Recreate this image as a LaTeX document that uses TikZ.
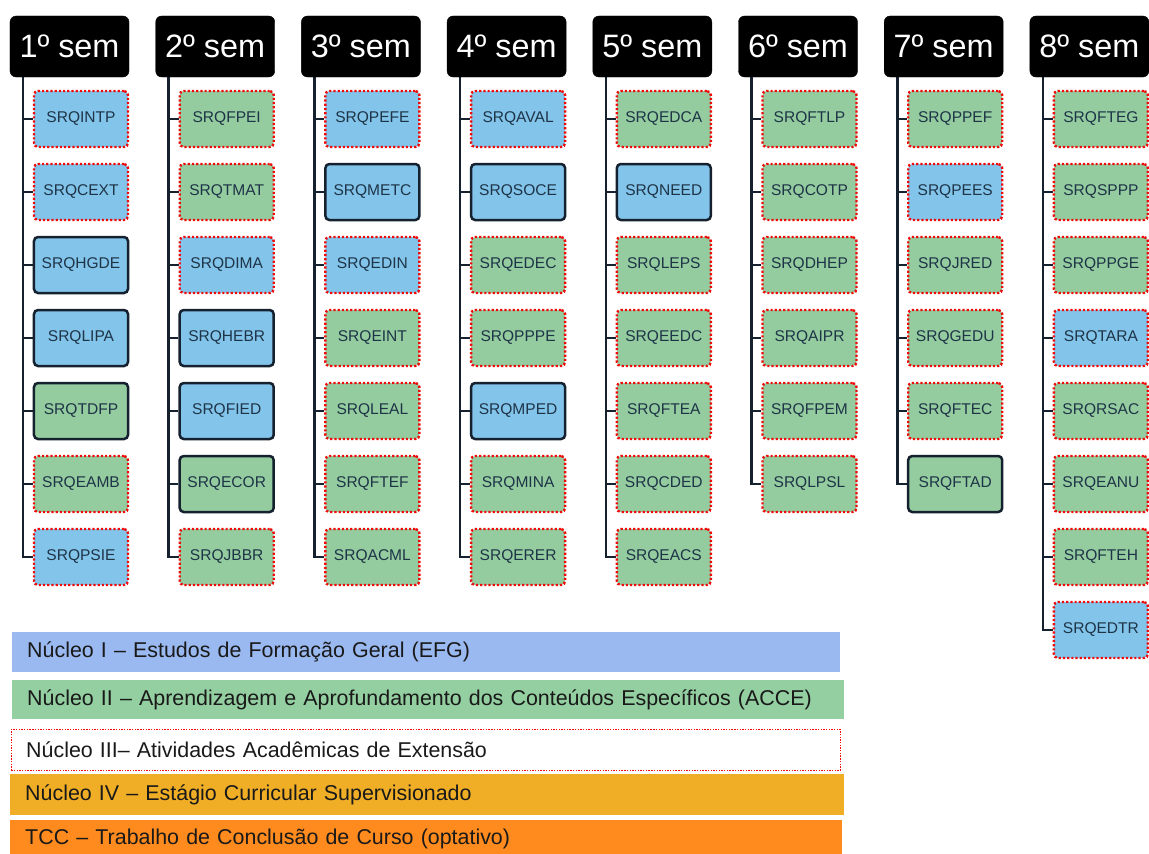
\documentclass[tikz,border=0pt]{standalone}
\usepackage{fontspec}
\setmainfont{Liberation Sans}
\usetikzlibrary{backgrounds}
\definecolor{ink}{HTML}{15212F}
\definecolor{cblue}{HTML}{83C4EA}
\definecolor{cgreen}{HTML}{94CC9F}
\definecolor{lblue}{HTML}{9AB9F0}
\definecolor{lgreen}{HTML}{93CFA0}
\definecolor{lgold}{HTML}{F0AE27}
\definecolor{lorange}{HTML}{FF8B1F}
\definecolor{txt}{HTML}{1E3447}
\definecolor{dotred}{HTML}{F00A0A}
\tikzset{
  hdrbox/.style={fill=black, draw=black, rounded corners=6bp, minimum width=119bp,
    minimum height=61bp, inner sep=0pt, text=white, font=\fontsize{32.5}{36}\selectfont},
  course/.style={rounded corners=4bp, minimum width=94bp, minimum height=56bp,
    inner sep=0pt, font=\fontsize{15.6}{18}\selectfont, text=txt},
  cb/.style={fill=cblue}, cg/.style={fill=cgreen},
  ext/.style={draw=dotred, line width=2.4bp, dash pattern=on 2.2bp off 2bp},
  core/.style={draw=ink, line width=2.5bp},
  tree/.style={draw=ink, line width=2.6bp},
  legbar/.style={anchor=north west, inner xsep=15bp, inner ysep=0pt, align=left,
    font=\fontsize{21.5}{24}\selectfont, text=black!90},
}
\begin{document}
\begin{tikzpicture}[x=1bp,y=-1bp]
\useasboundingbox (0,0) rectangle (1149,854);
\clip (0,0) rectangle (1149,854);
\foreach \c/\list in {
 1/{SRQINTP/cb/ext, SRQCEXT/cb/ext, SRQHGDE/cb/core, SRQLIPA/cb/core, SRQTDFP/cg/core, SRQEAMB/cg/ext, SRQPSIE/cb/ext},
 2/{SRQFPEI/cg/ext, SRQTMAT/cg/ext, SRQDIMA/cb/ext, SRQHEBR/cb/core, SRQFIED/cb/core, SRQECOR/cg/core, SRQJBBR/cg/ext},
 3/{SRQPEFE/cb/ext, SRQMETC/cb/core, SRQEDIN/cb/ext, SRQEINT/cg/ext, SRQLEAL/cg/ext, SRQFTEF/cg/ext, SRQACML/cg/ext},
 4/{SRQAVAL/cb/ext, SRQSOCE/cb/core, SRQEDEC/cg/ext, SRQPPPE/cg/ext, SRQMPED/cb/core, SRQMINA/cg/ext, SRQERER/cg/ext},
 5/{SRQEDCA/cg/ext, SRQNEED/cb/core, SRQLEPS/cg/ext, SRQEEDC/cg/ext, SRQFTEA/cg/ext, SRQCDED/cg/ext, SRQEACS/cg/ext},
 6/{SRQFTLP/cg/ext, SRQCOTP/cg/ext, SRQDHEP/cg/ext, SRQAIPR/cg/ext, SRQFPEM/cg/ext, SRQLPSL/cg/ext},
 7/{SRQPPEF/cg/ext, SRQPEES/cb/ext, SRQJRED/cg/ext, SRQGEDU/cg/ext, SRQFTEC/cg/ext, SRQFTAD/cg/core},
 8/{SRQFTEG/cg/ext, SRQSPPP/cg/ext, SRQPPGE/cg/ext, SRQTARA/cb/ext, SRQRSAC/cg/ext, SRQEANU/cg/ext, SRQFTEH/cg/ext, SRQEDTR/cb/ext}}{
  \pgfmathsetmacro\L{10+145.7*(\c-1)}
  \node[hdrbox] (h\c) at (\L+59.5,46.5) {\c º sem};
  \coordinate (t\c) at (\L+13,77);
  \foreach \name/\fillc/\bord [count=\k] in \list {
    \node[course,\fillc,\bord] (c\c-\k) at (\L+71,119+73*\k-73) {\name};
    \begin{pgfonlayer}{background}
      \draw[tree] (t\c |- c\c-\k.west) -- (c\c-\k.west);
    \end{pgfonlayer}
    \xdef\lastk{\k}
  }
  \begin{pgfonlayer}{background}
    \draw[tree] (t\c) |- (c\c-\lastk.west);
  \end{pgfonlayer}
}
% legend
\node[legbar, fill=lblue, minimum width=828bp, minimum height=40bp, text width=798bp] (n1) at (12,632)
  {Núcleo I – Estudos de Formação Geral (EFG)};
\node[legbar, fill=lgreen, minimum width=832bp, minimum height=39bp, text width=802bp] (n2) at (12,680)
  {Núcleo II – Aprendizagem e Aprofundamento dos Conteúdos Específicos (ACCE)};
\node[legbar, draw=dotred, line width=1.4bp, dash pattern=on 1.4bp off 1.3bp, minimum width=829bp, minimum height=41bp, text width=799bp] (n3) at (10.5,728.5)
  {Núcleo III– Atividades Acadêmicas de Extensão};
\node[legbar, fill=lgold, minimum width=834bp, minimum height=41bp, text width=804bp] (n4) at (10,774)
  {Núcleo IV – Estágio Curricular Supervisionado};
\node[legbar, fill=lorange, minimum width=832bp, minimum height=37bp, text width=802bp] (n5) at (10,820)
  {TCC – Trabalho de Conclusão de Curso (optativo)};
\end{tikzpicture}
\end{document}
